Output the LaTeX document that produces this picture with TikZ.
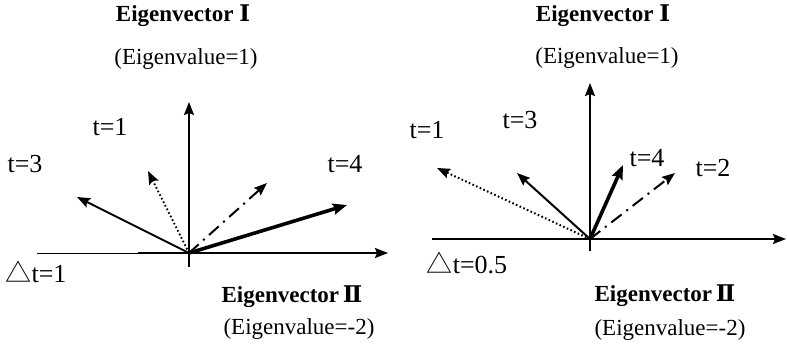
\documentclass[tikz,border=0pt]{standalone}
\usepackage{fontspec}
\setmainfont{Liberation Serif}
\newfontfamily\cjk{Noto Sans CJK SC}
\newfontfamily\romn{DejaVu Serif}
\usetikzlibrary{arrows.meta}
\tikzset{
  lbl/.style={inner sep=0pt, anchor=center, font=\fontsize{26}{28}\selectfont},
  ttl/.style={inner sep=0pt, anchor=center, font=\fontsize{23}{26}\selectfont\bfseries},
  evl/.style={inner sep=0pt, anchor=center, font=\fontsize{23}{26}\selectfont},
  tip/.style={-{Stealth[length=13pt,width=10pt,inset=2pt]}},
  axis/.style={line width=2pt, tip},
  thinaxis/.style={line width=1pt},
  vsolid/.style={line width=2pt, tip},
  vthick/.style={line width=3.6pt, -{Stealth[length=14pt,width=11pt,inset=2pt]}},
  vdot/.style={line width=2pt, dash pattern=on 1.6pt off 2.4pt, tip},
  vdashdot/.style={line width=2pt, dash pattern=on 13pt off 6pt on 2pt off 6pt, tip},
}
\begin{document}
\begin{tikzpicture}[x=1pt,y=-1pt]
\useasboundingbox (0,0) rectangle (787,349);
% ---------- left panel ----------
\coordinate (O1) at (189,253);
\coordinate (L1bot) at (189,267);
\coordinate (L1top) at (189,102);
\coordinate (L1left) at (37,253);
\coordinate (L1mid) at (138,253);
\coordinate (L1right) at (388,253);
\coordinate (La) at (77,197);
\coordinate (Lb) at (148,171);
\coordinate (Lc) at (267,183);
\coordinate (Ld) at (347,205);
\draw[axis] (L1bot) -- (L1top);
\draw[thinaxis] (L1left) -- (L1mid);
\draw[axis] (L1mid) -- (L1right);
\draw[vsolid] (O1) -- (La);
\draw[vdot] (O1) -- (Lb);
\draw[vdashdot] (O1) -- (Lc);
\draw[vthick] (O1) -- (Ld);
\node[ttl] (lt1) at (183,16) {Eigenvector {\romn Ⅰ}};
\node[evl] (le1) at (186,59) {(Eigenvalue=1)};
\node[lbl] (lt1l) at (110,127) {t=1};
\node[lbl] (lt3l) at (25,164) {t=3};
\node[lbl] (lt4l) at (345,164) {t=4};
\node[lbl] (ldt) at (36,272) {{\cjk △}t=1};
\node[ttl] (lt2) at (292,297) {Eigenvector\,{\romn Ⅱ}};
\node[evl] (le2) at (299,329) {(Eigenvalue=-2)};
% ---------- right panel ----------
\coordinate (O2) at (590,239);
\coordinate (R1bot) at (590,251);
\coordinate (R1top) at (590,83);
\coordinate (R1left) at (432,239);
\coordinate (R1right) at (786,239);
\coordinate (Ra) at (437,168);
\coordinate (Rb) at (517,173);
\coordinate (Rc) at (623,165);
\coordinate (Rd) at (675,173);
\draw[axis] (R1bot) -- (R1top);
\draw[axis] (R1left) -- (R1right);
\draw[vdot] (O2) -- (Ra);
\draw[vsolid] (O2) -- (Rb);
\draw[vthick] (O2) -- (Rc);
\draw[vdashdot] (O2) -- (Rd);
\node[ttl] (rt1) at (603,16) {Eigenvector {\romn Ⅰ}};
\node[evl] (re1) at (607,58) {(Eigenvalue=1)};
\node[lbl] (rt1l) at (427,130) {t=1};
\node[lbl] (rt3l) at (520,120) {t=3};
\node[lbl] (rt4l) at (647,158) {t=4};
\node[lbl] (rt2l) at (713,168) {t=2};
\node[lbl] (rdt) at (467,263) {{\cjk △}t=0.5};
\node[ttl] (rt2) at (665,296) {Eigenvector\,{\romn Ⅱ}};
\node[evl] (re2) at (670,330) {(Eigenvalue=-2)};
\end{tikzpicture}
\end{document}
